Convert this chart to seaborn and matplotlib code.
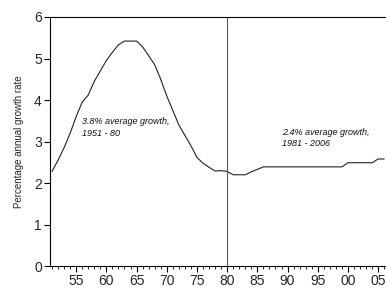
import numpy as np
import pandas as pd
import seaborn as sns
import matplotlib.pyplot as plt
from matplotlib.ticker import MultipleLocator, FuncFormatter

years = list(range(1951, 2007))
growth = [2.28, 2.55, 2.85, 3.2, 3.6, 3.95, 4.12, 4.45, 4.7, 4.95,
          5.15, 5.33, 5.42, 5.42, 5.42, 5.28, 5.07, 4.85, 4.5, 4.1,
          3.75, 3.4, 3.15, 2.9, 2.62, 2.48, 2.38, 2.29, 2.3, 2.28,
          2.2, 2.2, 2.2, 2.27, 2.33, 2.39, 2.39, 2.39, 2.39, 2.39,
          2.39, 2.39, 2.39, 2.39, 2.39, 2.39, 2.39, 2.39, 2.39, 2.49,
          2.49, 2.49, 2.49, 2.49, 2.58, 2.58]
break_year = 1980
notes = ["3.8% average growth,\n1951 - 80", "2.4% average growth,\n1981 - 2006"]
note_pos = [(1956.0, 3.58), (1989.1, 3.32)]

df = pd.DataFrame({'year': years, 'growth': growth})

sns.set_style('white')
plt.rcParams['font.family'] = ['Liberation Sans', 'DejaVu Sans']

fig = plt.figure(figsize=(3.86, 2.88), dpi=100)
ax = fig.add_axes([0.13, 0.076, 0.87, 0.865])

sns.lineplot(data=df, x='year', y='growth', ax=ax, color='#222222', linewidth=0.8)
ax.axvline(break_year, color='#555555', linewidth=0.8)

for txt, (x, y) in zip(notes, note_pos):
    ax.text(x, y, txt, fontsize=6.5, style='italic', va='top', ha='left',
            linespacing=1.3, color='#111111')

ax.set_xlim(1950.7, 2006.3)
ax.set_ylim(0, 6)
ax.xaxis.set_major_locator(MultipleLocator(5))
ax.xaxis.set_minor_locator(MultipleLocator(1))
ax.xaxis.set_major_formatter(FuncFormatter(lambda x, pos: f'{int(x) % 100:02d}'))
ax.yaxis.set_major_locator(MultipleLocator(1))
ax.tick_params(axis='both', which='major', direction='out', length=4, width=0.8,
               labelsize=10, pad=2, color='black', left=True, bottom=True)
ax.tick_params(axis='x', which='minor', direction='out', length=2, width=0.6,
               color='black', bottom=True)
ax.set_xlabel('')
ax.set_ylabel('Percentage annual growth rate', fontsize=7, labelpad=7)
for side in ['left', 'bottom', 'top']:
    ax.spines[side].set_color('black')
    ax.spines[side].set_linewidth(0.8)
ax.spines['right'].set_visible(False)

fig.savefig('out.png', dpi=100)
